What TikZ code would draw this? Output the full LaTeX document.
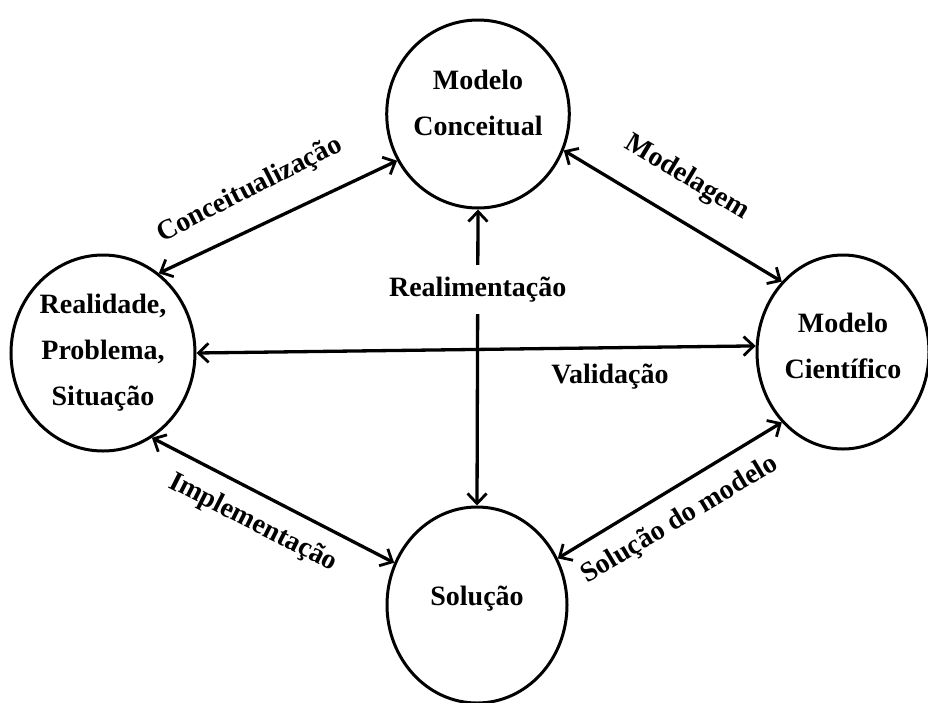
\documentclass[tikz,border=0pt]{standalone}
\usepackage{fontspec}
\setmainfont{Liberation Serif}
\usetikzlibrary{shapes.geometric,arrows.meta}
\begin{document}
\begin{tikzpicture}[x=1pt,y=-1pt,
  txt/.style={font=\fontsize{28}{46}\selectfont\bfseries, align=center, inner sep=2pt},
  bubble/.style={txt, ellipse, draw, line width=3pt, inner sep=0pt},
  conn/.style={line width=3.3pt, {Straight Barb[length=10pt,width=19pt,line width=2.8pt]}-{Straight Barb[length=10pt,width=19pt,line width=2.8pt]}}
]
\useasboundingbox (0,0) rectangle (928,702);
\node[bubble, minimum width=182pt, minimum height=188pt, text depth=22pt] (mc) at (478,114) {Modelo\\Conceitual};
\node[bubble, minimum width=184pt, minimum height=196pt] (rps) at (103,353) {Realidade,\\Problema,\\Situação};
\node[bubble, minimum width=172pt, minimum height=194pt, text depth=12pt] (mci) at (843,352) {Modelo\\Científico};
\node[bubble, minimum width=180pt, minimum height=196pt, text depth=18pt] (sol) at (477,605) {Solução};

\draw[conn] (rps.55) -- (mc.210);
\draw[conn] (mc.-23) -- (mci.131);
\draw[conn] (rps.-60) -- (sol.153);
\draw[conn] (sol.30) -- (mci.229);
\draw[conn] (rps.east) -- (mci.176);
\draw[conn] (mc.south) -- node[txt, pos=0.27, fill=white, inner ysep=12pt] (lreal) {Realimentação} (sol.north);

\node[txt, rotate=27] (lconc) at (250,190) {Conceitualização};
\node[txt, rotate=-31] (lmod) at (687,178) {Modelagem};
\node[txt, rotate=-27] (limp) at (253,523) {Implementação};
\node[txt, rotate=31] (lsolm) at (680,520) {Solução do modelo};
\node[txt] (lval) at (610,377) {Validação};
\end{tikzpicture}
\end{document}
